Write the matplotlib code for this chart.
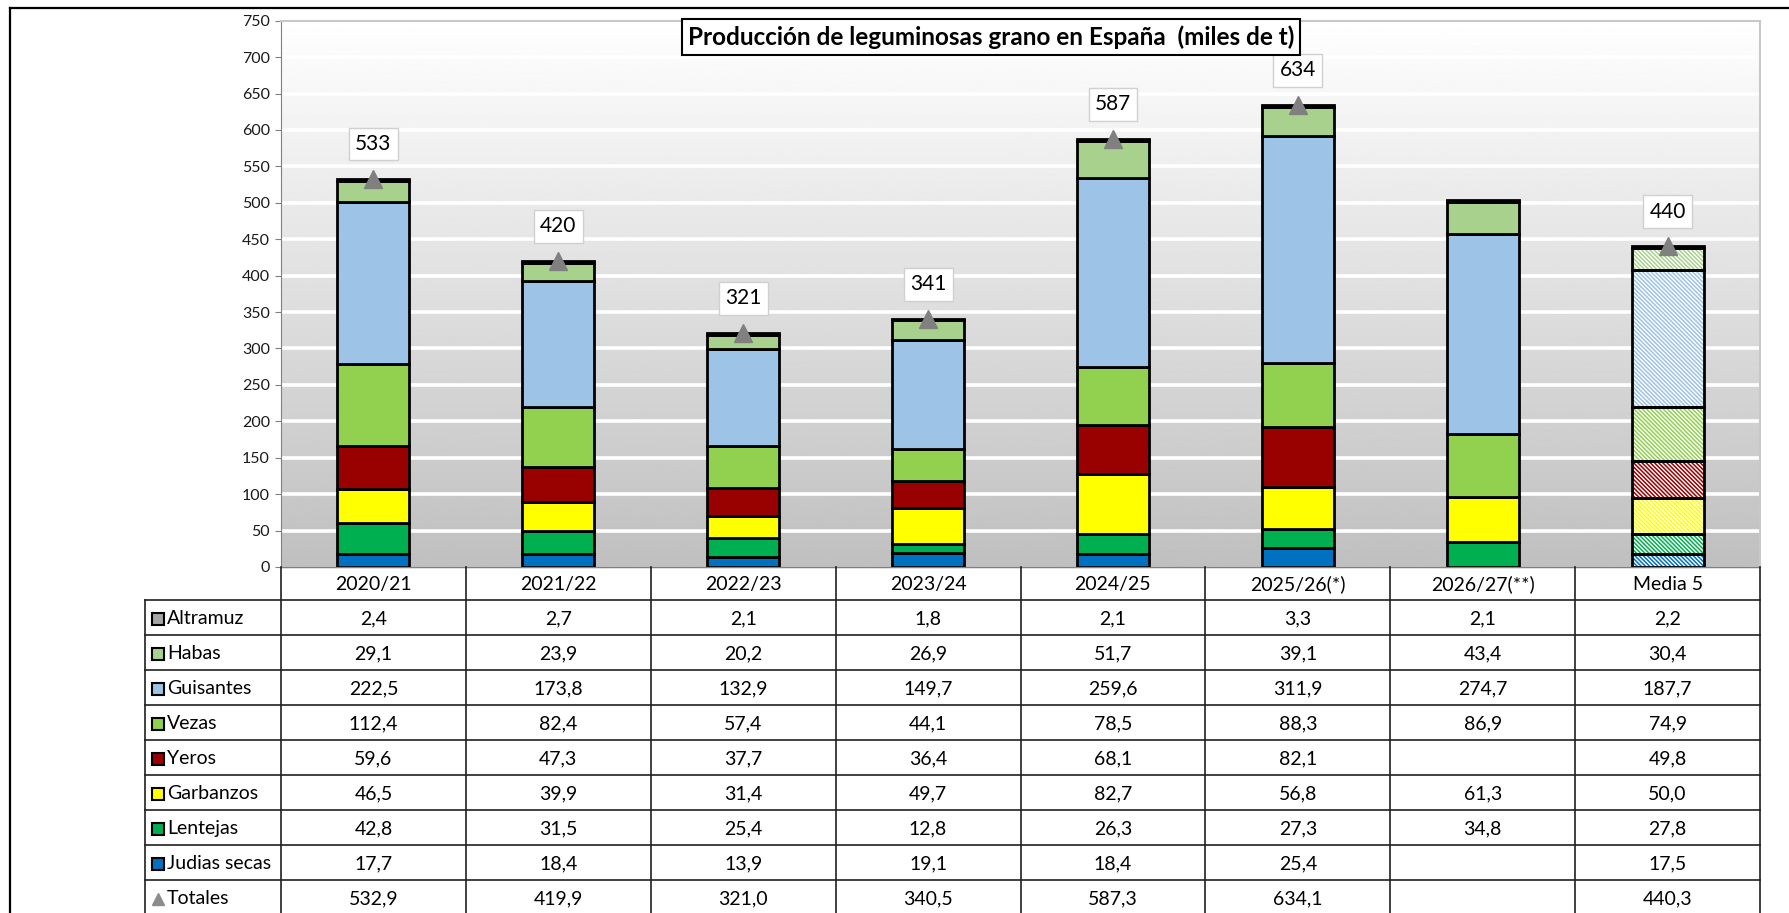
import numpy as np
import matplotlib
matplotlib.use("Agg")
import matplotlib.pyplot as plt
from matplotlib.lines import Line2D

plt.rcParams['font.family'] = ['Lato', 'DejaVu Sans']
plt.rcParams['hatch.linewidth'] = 1.1

# data (miles de t)
campaigns = ['2020/21', '2021/22', '2022/23', '2023/24', '2024/25',
             '2025/26(*)', '2026/27(**)', 'Media 5']
judias = [17.7, 18.4, 13.9, 19.1, 18.4, 25.4, None, 17.5]
lentejas = [42.8, 31.5, 25.4, 12.8, 26.3, 27.3, 34.8, 27.8]
garbanzos = [46.5, 39.9, 31.4, 49.7, 82.7, 56.8, 61.3, 50.0]
yeros = [59.6, 47.3, 37.7, 36.4, 68.1, 82.1, None, 49.8]
vezas = [112.4, 82.4, 57.4, 44.1, 78.5, 88.3, 86.9, 74.9]
guisantes = [222.5, 173.8, 132.9, 149.7, 259.6, 311.9, 274.7, 187.7]
habas = [29.1, 23.9, 20.2, 26.9, 51.7, 39.1, 43.4, 30.4]
altramuz = [2.4, 2.7, 2.1, 1.8, 2.1, 3.3, 2.1, 2.2]
totales = [532.9, 419.9, 321.0, 340.5, 587.3, 634.1, None, 440.3]

# bottom -> top of the stack
series = [('Judias secas', judias, '#0070C0'),
          ('Lentejas', lentejas, '#00B050'),
          ('Garbanzos', garbanzos, '#FFFF00'),
          ('Yeros', yeros, '#990000'),
          ('Vezas', vezas, '#92D050'),
          ('Guisantes', guisantes, '#9DC3E6'),
          ('Habas', habas, '#A9D18E'),
          ('Altramuz', altramuz, '#A5A5A5')]

W, H = 1789, 913
fig = plt.figure(figsize=(W / 100, H / 100), dpi=100)

# main chart area
x0, x1, ytop, ybot = 281, 1760, 20.7, 567
ax = fig.add_axes([x0 / W, 1 - ybot / H, (x1 - x0) / W, (ybot - ytop) / H])
n = len(campaigns)
x = np.arange(n)
ax.set_xlim(-0.5, n - 0.5)
ax.set_ylim(0, 750)

# gradient background + white grid
grad = np.linspace(0.75, 1.0, 256).reshape(-1, 1)
ax.imshow(grad, extent=[-0.5, n - 0.5, 0, 750], origin='lower', cmap='gray',
          vmin=0, vmax=1, aspect='auto', zorder=0)
for yv in range(50, 750, 50):
    ax.axhline(yv, color='white', lw=2.6, zorder=0.5)

bottom = np.zeros(n)
width = 0.39
for name, vals, col in series:
    for i in range(n):
        v = vals[i]
        if v is None:
            continue
        if campaigns[i] == 'Media 5':
            ax.bar(x[i], v, width, bottom=bottom[i], facecolor='white',
                   edgecolor=col, hatch='\\' * 8, lw=0, zorder=2)
            ax.bar(x[i], v, width, bottom=bottom[i], facecolor='none',
                   edgecolor='black', lw=2, zorder=3)
        else:
            ax.bar(x[i], v, width, bottom=bottom[i], color=col,
                   edgecolor='black', lw=2, zorder=2)
        bottom[i] += v

# totals markers and labels
for i, t in enumerate(totales):
    if t is None:
        continue
    ax.plot(x[i], t, marker='^', ms=13, color='#808080', zorder=4)
    ax.annotate(f'{np.floor(t + 0.5):.0f}', (x[i], t), xytext=(0, 25),
                textcoords='offset points', ha='center', va='center', fontsize=15,
                bbox=dict(boxstyle='square,pad=0.3', fc='white', ec='#d0d0d0', lw=1))

ax.set_yticks(range(0, 751, 50))
ax.set_xticks([])
ax.tick_params(axis='y', length=4, color='#808080', labelsize=11.5, labelcolor='#1a1a1a', pad=4)
ax.spines['left'].set_color('#808080')
ax.spines['bottom'].set_color('#808080')
for s in ['top', 'right']:
    ax.spines[s].set_color('#c8c8c8')
    ax.spines[s].set_linewidth(1.5)

ax.text(0.48, 0.97, 'Producción de leguminosas grano en España  (miles de t)',
        transform=ax.transAxes, ha='center', va='center', fontsize=17.5,
        fontweight='bold', zorder=6,
        bbox=dict(boxstyle='square,pad=0.25', fc='white', ec='black', lw=1.5))

# data table underneath
tl = 145
unit = (x1 - x0) / n
tab = fig.add_axes([tl / W, 0, (x1 - tl) / W, (H - ybot) / H])
xl = -0.5 - (x0 - tl) / unit
tab.set_xlim(xl, n - 0.5)
tab.set_ylim(H - ybot, 0)
tab.axis('off')

hdr, rh = 33, 35
rows = list(reversed(series)) + [('Totales', totales, '#8c8c8c')]
lc, lw = '#202020', 1.2
tab.plot([-0.5, n - 0.5], [0, 0], color='#808080', lw=1)
for k in range(len(rows) + 1):
    yy = hdr + k * rh
    tab.plot([xl, n - 0.5], [yy, yy], color=lc, lw=lw, clip_on=False)
tab.plot([xl, xl], [hdr, H], color=lc, lw=lw, clip_on=False)
for i in range(n + 1):
    tab.plot([i - 0.5, i - 0.5], [0, H], color=lc, lw=lw, clip_on=False)

fs = 14
for i, c in enumerate(campaigns):
    tab.text(i, hdr / 2 + 1, c, ha='center', va='center', fontsize=fs)

for k, (name, vals, col) in enumerate(rows):
    yc = hdr + k * rh + rh / 2 + 1
    if name == 'Totales':
        tab.plot(xl + 13 / unit, yc, marker='^', ms=9, color='#8c8c8c', clip_on=False)
    else:
        tab.plot(xl + 13 / unit, yc, marker='s', ms=8.5, mfc=col, mec='black',
                 mew=1.5, clip_on=False)
    tab.text(xl + 22 / unit, yc, name, ha='left', va='center', fontsize=fs)
    for i, v in enumerate(vals):
        if v is None:
            continue
        tab.text(i, yc, f'{v:.1f}'.replace('.', ','), ha='center', va='center',
                 fontsize=fs)

# outer frame
fig.add_artist(Line2D([10 / W, 10 / W], [0, 1 - 8 / H], color='black', lw=1.6))
fig.add_artist(Line2D([10 / W, 1], [1 - 8 / H, 1 - 8 / H], color='black', lw=1.6))

fig.savefig('out.png', dpi=100)
